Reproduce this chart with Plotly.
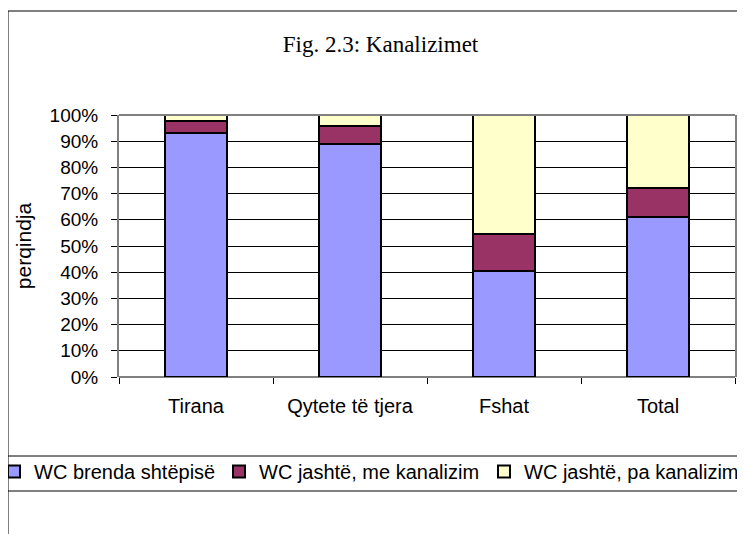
import plotly.graph_objects as go

categories = ["Tirana", "Qytete të tjera", "Fshat", "Total"]
series_names = ["WC brenda shtëpisë", "WC jashtë, me kanalizim", "WC jashtë, pa kanalizim"]
wc_brenda = [93.3, 88.8, 40.6, 61.2]
wc_me_kanalizim = [4.3, 7.1, 13.9, 10.8]
wc_pa_kanalizim = [2.4, 4.1, 45.5, 28.0]
tick_vals = [0, 10, 20, 30, 40, 50, 60, 70, 80, 90, 100]
tick_text = ["0%", "10%", "20%", "30%", "40%", "50%", "60%", "70%", "80%", "90%", "100%"]

colors = ["#9999FF", "#993366", "#FFFFCC"]
legend_widths = [180, 240, 240]
legend_ids = ["legend", "legend", "legend2"]
values = [wc_brenda, wc_me_kanalizim, wc_pa_kanalizim]

fig = go.Figure()
for name, vals, col, lw, lg in zip(series_names, values, colors, legend_widths, legend_ids):
    fig.add_trace(go.Bar(
        x=categories, y=vals, name=name,
        marker=dict(color=col, line=dict(color="black", width=2)),
        width=0.4, legendwidth=lw, legend=lg,
    ))

# page has an 8px body margin: figure coords = page coords - 8
W, H = 737, 526
L, R, T, B = 111, 10, 107, 157
pw, ph = W - L - R, H - T - B

def px_x(x):
    return (x - L) / pw

def px_y(y):
    return (H - B - y) / ph

legend_style = dict(orientation="h", xanchor="left", y=px_y(444), yanchor="top",
                    font=dict(size=20), bgcolor="rgba(0,0,0,0)", traceorder="normal",
                    itemwidth=30)

fig.update_layout(
    width=W, height=H,
    margin=dict(l=L, r=R, t=T, b=B, autoexpand=False),
    barmode="stack",
    paper_bgcolor="white", plot_bgcolor="white",
    font=dict(family="Liberation Sans, Arial", size=19, color="black"),
    title=dict(text="Fig. 2.3: Kanalizimet", x=372.5 / W, xanchor="center",
               y=1 - 36 / H, yanchor="middle",
               font=dict(family="Liberation Serif, Times New Roman", size=23, color="black")),
    showlegend=True,
    legend=dict(x=px_x(-14), **legend_style),
    legend2=dict(x=px_x(476), **legend_style),
    xaxis=dict(showline=False, ticks="outside",
               tickson="boundaries", ticklen=6, tickcolor="black",
               ticklabelstandoff=15, showgrid=False, fixedrange=True,
               tickfont=dict(size=20)),
    yaxis=dict(range=[0, 100], tickvals=tick_vals, ticktext=tick_text,
               showline=True, linecolor="#808080", linewidth=2, mirror=True,
               ticks="outside", ticklen=6, tickcolor="black",
               showgrid=True, gridcolor="#000000", gridwidth=1,
               ticklabelstandoff=9, zeroline=False, fixedrange=True,
               title=dict(text="perqindja", standoff=12, font=dict(size=21))),
    shapes=[
        dict(type="rect", xref="paper", yref="paper",
             x0=px_x(0), x1=px_x(760), y0=px_y(560), y1=px_y(3),
             line=dict(color="black", width=1), layer="below"),
        dict(type="line", xref="paper", yref="paper",
             x0=px_x(0), x1=px_x(760), y0=px_y(448), y1=px_y(448),
             line=dict(color="black", width=1)),
        dict(type="line", xref="paper", yref="paper",
             x0=px_x(0), x1=px_x(760), y0=px_y(483), y1=px_y(483),
             line=dict(color="black", width=1)),
        dict(type="line", xref="paper", yref="paper",
             x0=0, x1=1, y0=1, y1=1,
             line=dict(color="#808080", width=2)),
        dict(type="line", xref="paper", yref="paper",
             x0=0, x1=1, y0=0, y1=0,
             line=dict(color="black", width=1)),
    ],
)

fig.write_html("out.html")
